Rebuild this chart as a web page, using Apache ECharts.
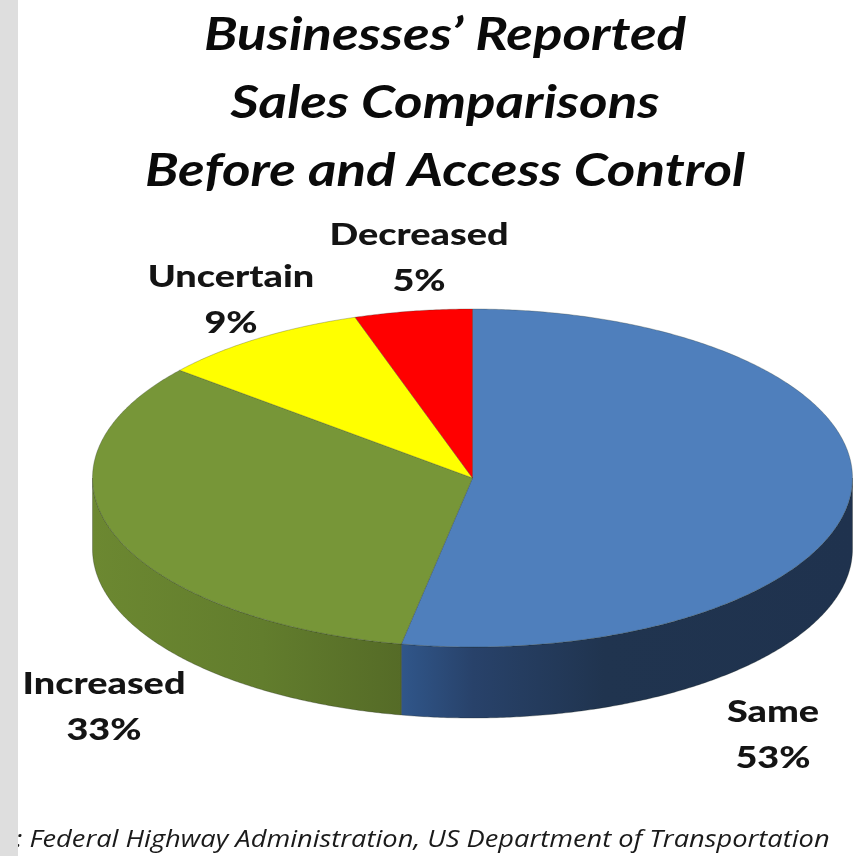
<!DOCTYPE html>
<html>
<head>
<meta charset="utf-8">
<style>html,body{margin:0;padding:0;background:#fff}#chart{width:860px;height:856px}</style>
<script src="https://cdn.jsdelivr.net/npm/echarts@6/dist/echarts.min.js"></script>
</head>
<body>
<div id="chart"></div>
<script>
// Survey shares, clockwise from twelve o'clock
const categories = ['Same', 'Increased', 'Uncertain', 'Decreased'];
const shares = [53, 33, 9, 5];
const titleLines = ['Businesses’ Reported', 'Sales Comparisons', 'Before and Access Control'];
const sourceNote = 'e: Federal Highway Administration, US Department of Transportation';

// Tilted disc geometry
const disc = { cx: 472.5, cy: 478, rx: 380, ry: 169, depth: 71 };
const topColors = ['#4f7fbc', '#779638', '#ffff00', '#ff0000'];
// Wall shading, left to right across each wall
const wallStops = [
  [[0, '#30568a'], [0.16, '#28426a'], [0.45, '#20344f'], [1, '#1f324e']],
  [[0, '#6c8831'], [0.55, '#627d2d'], [1, '#556b27']],
  null,
  null
];
// Label anchors (centre x, first-line centre y) by slice
const labelAnchors = [[773, 712], [104, 684], [231, 277], [419, 235]];
const labelGap = 46;
const wideText = 1.22;

const total = shares.reduce((a, b) => a + b, 0);

function pointAt(deg, yShift) {
  const r = deg * Math.PI / 180;
  return [disc.cx + disc.rx * Math.sin(r), disc.cy + (yShift || 0) - disc.ry * Math.cos(r)];
}
function arc(from, to, yShift) {
  const pts = [];
  const n = Math.max(2, Math.ceil(Math.abs(to - from) * 2));
  for (let i = 0; i <= n; i++) pts.push(pointAt(from + (to - from) * i / n, yShift));
  return pts;
}

function labelText(x, y, text) {
  return {
    type: 'text', z2: 3, x, y, scaleX: wideText,
    style: { x: 0, y: 0, text, fontFamily: 'Lato', fontWeight: 900, fontSize: 31, fill: '#141414', align: 'center', verticalAlign: 'middle' }
  };
}

function renderSlice(params) {
  const i = params.dataIndex;
  let start = 0;
  for (let k = 0; k < i; k++) start += shares[k];
  const a0 = start / total * 360;
  const a1 = (start + shares[i]) / total * 360;
  const children = [];

  // Front wall: only the part of the rim between 90° and 270° faces the viewer
  const w0 = Math.max(a0, 90), w1 = Math.min(a1, 270);
  if (w1 > w0 && wallStops[i]) {
    children.push({
      type: 'polygon',
      z2: 1,
      shape: { points: arc(w0, w1, 0).concat(arc(w1, w0, disc.depth)) },
      style: {
        fill: new echarts.graphic.LinearGradient(0, 0, 1, 0,
          wallStops[i].map(s => ({ offset: s[0], color: s[1] }))),
        stroke: 'rgba(20,30,20,0.4)',
        lineWidth: 0.7
      }
    });
  }

  // Top face
  children.push({
    type: 'polygon',
    z2: 2,
    shape: { points: [[disc.cx, disc.cy]].concat(arc(a0, a1, 0)) },
    style: { fill: topColors[i], stroke: 'rgba(40,50,40,0.4)', lineWidth: 0.7 }
  });

  // Two-line label
  const anchor = labelAnchors[i];
  children.push(labelText(anchor[0], anchor[1], categories[i]));
  children.push(labelText(anchor[0], anchor[1] + labelGap, shares[i] + '%'));

  return { type: 'group', children };
}

const chart = echarts.init(document.getElementById('chart'), null, { renderer: 'canvas' });
chart.setOption({
  animation: false,
  backgroundColor: '#ffffff',
  graphic: titleLines.map((line, i) => ({
    type: 'text', z: 5, x: 445, y: 35 + i * 68, scaleX: 1.19,
    style: { text: line, fontFamily: 'Lato', fontStyle: 'italic', fontWeight: 'bold', fontSize: 46, fill: '#0a0a0a', align: 'center', verticalAlign: 'middle' }
  })).concat([
    { type: 'text', z: 5, x: 2, y: 840, scaleX: 1.185, style: { text: sourceNote, fontFamily: 'Open Sans', fontStyle: 'italic', fontSize: 23, fill: '#1a1a1a', align: 'left', verticalAlign: 'middle' } },
    // Grey margin strip along the left edge, sits above the note
    { type: 'rect', z: 10, x: 0, y: 0, shape: { x: 0, y: 0, width: 18, height: 856 }, style: { fill: '#dedede' } }
  ]),
  series: [{
    type: 'custom',
    coordinateSystem: 'none',
    renderItem: renderSlice,
    silent: true,
    data: shares.map((v, i) => ({ value: v, name: categories[i] }))
  }]
});
</script>
</body>
</html>
